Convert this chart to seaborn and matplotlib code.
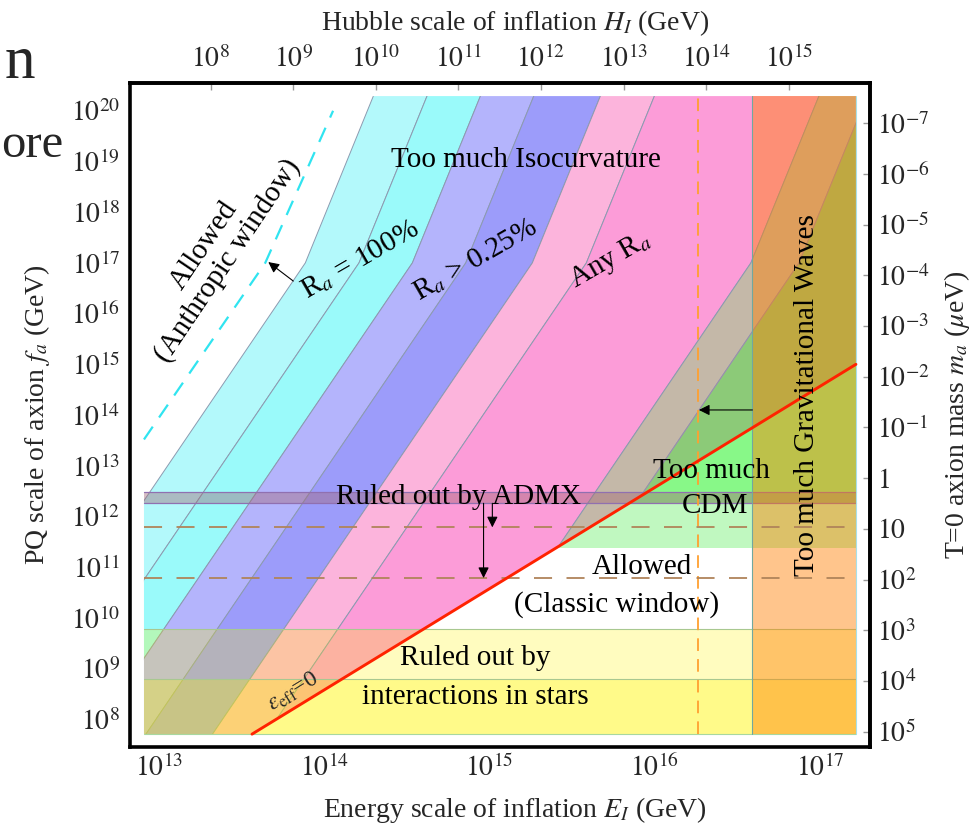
import numpy as np
import matplotlib
matplotlib.use("Agg")
import matplotlib.pyplot as plt
import seaborn as sns
from matplotlib.patches import Polygon

# ---------------- values ----------------
E_RANGE = [8.1e12, 1.65e17]      # shaded range of E_I (GeV)
F_RANGE = [5.1e7, 1.95e20]       # shaded range of f_a (GeV)
E_LIM = [6.67e12, 2.01e17]
F_LIM = [2.84e7, 3.52e20]

# isocurvature boundaries: log10(E_I) at the log10(f_a) levels below
iso_logf = [7.0, 17.0, 20.5]
iso_logE = [
    [11.802, 13.885, 14.323],
    [12.127, 14.210, 14.648],
    [12.450, 14.533, 14.971],
    [12.773, 14.856, 15.294],
    [13.176, 15.259, 15.697],
    [13.503, 15.586, 16.024],
    [14.499, 16.582, 17.020],
    [14.790, 16.873, 17.311],
]
band_colors = ["#b3f9fb", "#9afafa", "#b4b4fc", "#9c9cfa", "#fcb4dc", "#fc9cd8", "#c4b8a8"]
beyond_color = "#8cca78"

red_E = [3.65e13, 1.65e17]        # epsilon_eff = 0 line
red_f = [5.1e7, 1.0e15]

anthropic_E = [8.1e12, 4.39e13, 1.13e14]
anthropic_f = [3.3e13, 1.0e17, 1.0e20]

cdm_f = [2.36e11, 1.82e12]
admx_f = [1.82e12, 3.07e12]
stars_f = [6.1e9, 6.2e8]
gw_E = 3.9e16
bicep_E = 1.82e16
admx_dash_f = [6.1e11, 6.1e10]

E_ticks = [1e13, 1e14, 1e15, 1e16, 1e17]
E_exp = [13, 14, 15, 16, 17]
f_exp = list(range(8, 21))
H_exp = list(range(8, 16))
m_exp = list(range(-7, 6))
M_REL = 4.2e18      # E_I^2 / H_I  (GeV)
M_F = 5.7e12        # m_a[mu eV] * f_a[GeV]

# ---------------- style ----------------
sns.set_theme(style="white")
plt.rcParams["font.family"] = ["Liberation Serif", "DejaVu Serif"]
plt.rcParams["mathtext.fontset"] = "stix"
FS = 20
TFS = 21

fig = plt.figure(figsize=(9.74, 8.25), dpi=100)
ax = fig.add_axes([0.1335, 0.0945, 0.7598, 0.8048])
ax.set_xscale("log")
ax.set_yscale("log")
ax.set_xlim(E_LIM)
ax.set_ylim(F_LIM)

E0, E1 = E_RANGE
F0, F1 = F_RANGE

above_red = Polygon([(E0, F0), (red_E[0], red_f[0]), (red_E[1], red_f[1]), (E1, F1), (E0, F1)],
                    closed=True, transform=ax.transData)
below_red = Polygon([(red_E[0], red_f[0]), (E1, F0), (red_E[1], red_f[1])],
                    closed=True, transform=ax.transData)


def boundary(i):
    return [10.0 ** e for e in iso_logE[i]], [10.0 ** f for f in iso_logf]


# isocurvature bands
for i, col in enumerate(band_colors):
    xa, ya = boundary(i)
    xb, yb = boundary(i + 1)
    polys = ax.fill(xa + xb[::-1], ya + yb[::-1], facecolor=col, edgecolor="#8c9ab0",
                    lw=0.7, zorder=1)
    for p in polys:
        p.set_clip_path(above_red)
xa, ya = boundary(len(iso_logE) - 1)
polys = ax.fill(xa + [1e19, 1e19], ya + [10 ** iso_logf[-1], 10 ** iso_logf[0]],
                facecolor=beyond_color, edgecolor="#9a8ab0", lw=0.7, zorder=1)
for p in polys:
    p.set_clip_path(above_red)

# too much CDM (post-inflation)
for lo, hi, col in [(cdm_f[0], cdm_f[1], "#c0f8c0"), (cdm_f[1], F1, "#88f888")]:
    polys = ax.fill([E0, E1, E1, E0], [lo, lo, hi, hi], facecolor=col, edgecolor="none", zorder=1.5)
    for p in polys:
        p.set_clip_path(below_red)

# stars
ax.fill([E0, E1, E1, E0], [F0, F0, stars_f[0], stars_f[0]], facecolor=(1.0, 0.96, 0.0),
        alpha=0.25, edgecolor="none", zorder=2)
ax.fill([E0, E1, E1, E0], [F0, F0, stars_f[1], stars_f[1]], facecolor=(1.0, 0.96, 0.0),
        alpha=0.28, edgecolor="none", zorder=2)
for yv in stars_f:
    ax.plot([E0, E1], [yv, yv], color="#a8c890", lw=0.8, zorder=2.1)
ax.plot([E0, E1], [F0, F0], color="#a8d8a0", lw=0.8, zorder=2.1)

# ADMX
ax.fill([E0, E1, E1, E0], [admx_f[0], admx_f[0], admx_f[1], admx_f[1]],
        facecolor=(0.63, 0.40, 0.46), alpha=0.42, edgecolor="none", zorder=3)
for yv in admx_f:
    ax.plot([E0, E1], [yv, yv], color="#9070b0", lw=0.9, zorder=3.1)

# gravitational waves
ax.fill([gw_E, E1, E1, gw_E], [F0, F0, F1, F1], facecolor=(1.0, 0.5, 0.0), alpha=0.45,
        edgecolor="none", zorder=4)
ax.plot([gw_E, gw_E], [F0, F1], color="#70a8a0", lw=0.8, zorder=4.1)
ax.plot([E1, E1], [F0, F1], color="#a8e0e8", lw=0.8, zorder=4.1)

# dashed lines
ax.plot([bicep_E, bicep_E], [F0, F1], color="#ffa030", lw=1.3, linestyle=(0, (7, 4.5)), zorder=5)
for yv in admx_dash_f:
    ax.plot([E0, E1], [yv, yv], color="#b0845a", lw=1.3, linestyle=(0, (10, 8)), zorder=5)
sns.lineplot(x=anthropic_E, y=anthropic_f, ax=ax, color="#30e4f0", lw=1.6,
             linestyle=(0, (7, 5)), zorder=5)
sns.lineplot(x=red_E, y=red_f, ax=ax, color="#ff2200", lw=2.1, zorder=6)

# arrows
arrow_kw = dict(arrowstyle="-|>", color="black", lw=0.8, mutation_scale=16, shrinkA=0, shrinkB=0)
ax.annotate("", xy=(4.58e13, 1.04e17), xytext=(6.49e13, 4.39e16), arrowprops=arrow_kw, zorder=7)
ax.annotate("", xy=(1.85e16, 1.26e14), xytext=(gw_E, 1.26e14), arrowprops=arrow_kw, zorder=7)
ax.annotate("", xy=(1.04e15, admx_dash_f[0]), xytext=(1.04e15, admx_f[0]), arrowprops=arrow_kw, zorder=7)
ax.annotate("", xy=(9.2e14, admx_dash_f[1]), xytext=(9.2e14, admx_f[0]), arrowprops=arrow_kw, zorder=7)

# text
tk = dict(fontsize=TFS, ha="center", va="center", zorder=8, color="black")
ax.text(1.65e15, 1.07e19, "Too much Isocurvature", **tk)
ax.text(2.21e13, 1.56e17, "Allowed\n(Anthropic window)", rotation=56, multialignment="center",
        linespacing=1.05, **tk)
ax.text(1.65e14, 1.14e17, "R$_a$ = 100%", rotation=30, **tk)
ax.text(8.22e14, 1.14e17, "R$_a$ > 0.25%", rotation=30, **tk)
ax.text(5.41e15, 1.14e17, "Any R$_a$", rotation=30, **tk)
ax.text(6.49e14, 2.42e12, "Ruled out by ADMX", **tk)
ax.text(2.21e16, 7.87e12, "Too much", **tk)
ax.text(2.31e16, 1.61e12, "CDM", **tk)
ax.text(8.34e15, 1.01e11, "Allowed", **tk)
ax.text(5.89e15, 1.80e10, "(Classic window)", **tk)
ax.text(8.22e14, 1.62e9, "Ruled out by", **tk)
ax.text(8.22e14, 2.75e8, "interactions in stars", **tk)
ax.text(8.34e16, 2.48e14, "Too much Gravitational Waves", rotation=90, **tk)
ax.text(6.49e13, 3.46e8, r"$\epsilon_{\rm eff}$=0", rotation=31.5, fontsize=17,
        ha="center", va="center", zorder=8)

# axes, ticks
ax.set_xticks(E_ticks, labels=[f"$10^{{{k}}}$" for k in E_exp])
ax.set_yticks([10.0 ** k for k in f_exp], labels=[f"$10^{{{k}}}$" for k in f_exp])
ax.minorticks_off()
ax.tick_params(axis="both", which="major", direction="in", length=5, width=1, color="#9a9a9a",
               labelsize=FS, top=False, right=False)
ax.tick_params(axis="x", pad=5)
ax.tick_params(axis="y", pad=7)
for s in ax.spines.values():
    s.set_color("black")
    s.set_linewidth(2.6)
ax.grid(False)
ax.set_xlabel("Energy scale of inflation $E_I$ (GeV)", fontsize=FS)
ax.set_ylabel("PQ scale of axion $f_a$ (GeV)", fontsize=FS)
ax.xaxis.set_label_coords(0.52, -0.072)
ax.yaxis.set_label_coords(-0.105, 0.5)


def e_to_h(E):
    E = np.asarray(E, dtype=float)
    return E ** 2 / M_REL


def h_to_e(H):
    H = np.asarray(H, dtype=float)
    return np.sqrt(np.clip(H, 0, None) * M_REL)


def f_to_m(f):
    f = np.asarray(f, dtype=float)
    with np.errstate(divide="ignore", invalid="ignore"):
        return M_F / f


secx = ax.secondary_xaxis("top", functions=(e_to_h, h_to_e))
secx.set_xticks([10.0 ** k for k in H_exp], labels=[f"$10^{{{k}}}$" for k in H_exp])
secx.xaxis.set_minor_locator(matplotlib.ticker.NullLocator())
secx.tick_params(direction="in", length=5, width=1, color="#9a9a9a", labelsize=FS, pad=7)
secx.set_xlabel("Hubble scale of inflation $H_I$ (GeV)", fontsize=FS)
secx.xaxis.set_label_coords(0.52, 1.08, transform=ax.transAxes)
for s in secx.spines.values():
    s.set_linewidth(2.6)
    s.set_color("black")

m_labels = []
for k in m_exp:
    if k == 0:
        m_labels.append("$1$")
    elif k == 1:
        m_labels.append("$10$")
    else:
        m_labels.append(f"$10^{{{k}}}$")
secy = ax.secondary_yaxis("right", functions=(f_to_m, f_to_m))
secy.set_yticks([10.0 ** k for k in m_exp], labels=m_labels)
secy.yaxis.set_minor_locator(matplotlib.ticker.NullLocator())
secy.tick_params(direction="in", length=5, width=1, color="#9a9a9a", labelsize=FS, pad=5)
secy.set_ylabel(r"T=0 axion mass $m_a$ ($\mu$eV)", fontsize=FS)
secy.yaxis.set_label_coords(1.097, 0.5, transform=ax.transAxes)
for s in secy.spines.values():
    s.set_linewidth(2.6)
    s.set_color("black")

# fragments of surrounding page text visible at the top-left
fig.text(5 / 974, 1 - 78 / 825, "n", fontsize=44, ha="left", va="baseline")
fig.text(1 / 974, 1 - 157 / 825, "ore", fontsize=35, ha="left", va="baseline")

fig.savefig("out.png", dpi=100)
